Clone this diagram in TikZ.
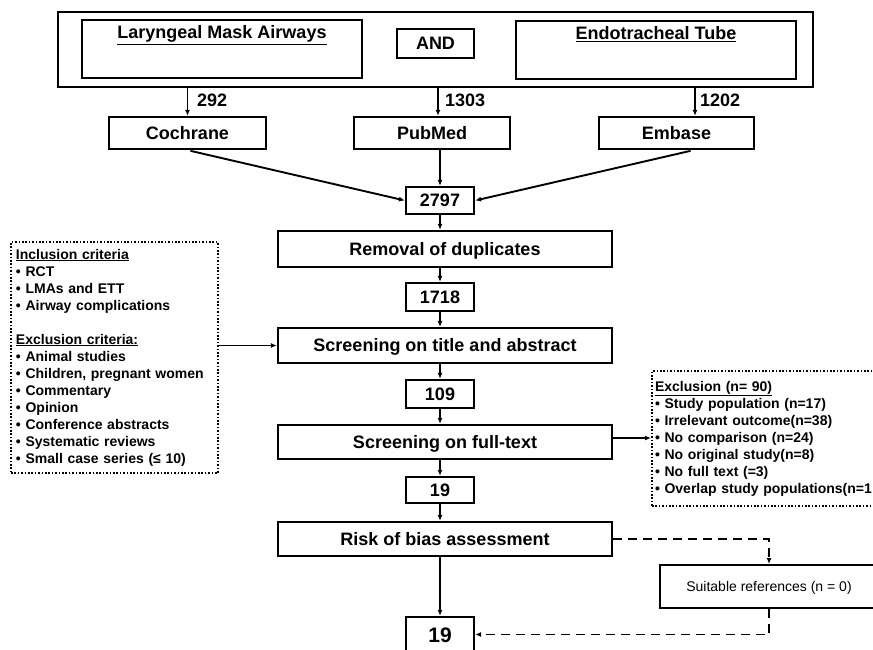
\documentclass[tikz,border=0pt]{standalone}
\usepackage{fontspec}
\setmainfont{Liberation Sans}
\usetikzlibrary{arrows.meta,calc}
\begin{document}
\begin{tikzpicture}[x=1pt,y=-1pt,
  box/.style={draw, line width=2.3pt, inner sep=0pt, font=\fontsize{18}{21}\selectfont\bfseries,
    text height=12.9pt, text depth=0pt, align=center},
  lab/.style={inner sep=0pt, font=\fontsize{18}{21}\selectfont\bfseries, text height=12.9pt, text depth=0pt, anchor=west},
  arr/.style={line width=1.9pt, -{Latex[length=6pt,width=5pt]}},
  dotbox/.style={draw, line width=2pt, dash pattern=on 1.6pt off 1.8pt, inner ysep=0pt,
    font=\fontsize{14}{17}\selectfont\bfseries, align=left},
  dashln/.style={line width=2pt, dash pattern=on 9pt off 6pt}
]
\useasboundingbox (0,0) rectangle (873,650);
\clip (0,0) rectangle (873,650);

% search terms
\node[box, line width=2.7pt, minimum width=755pt, minimum height=75pt] (outer) at (435.5,49.5) {};
\node[box, minimum width=280pt, minimum height=58pt] (lma) at (222,49) {};
\node[lab, anchor=base] (lmat) at ([yshift=-20pt]lma.north) {\underline{Laryngeal Mask Airways}};
\node[box, minimum width=77pt, minimum height=29pt] (and) at (435.5,43.5) {AND};
\node[box, minimum width=280pt, minimum height=58pt] (ett) at (656,50) {};
\node[lab, anchor=base] (ettt) at ([yshift=-20pt]ett.north) {\underline{Endotracheal Tube}};

% databases
\node[box, minimum width=157pt, minimum height=32pt] (coch) at (187.5,133) {Cochrane};
\node[box, minimum width=156pt, minimum height=32pt] (pub) at (432,133) {PubMed};
\node[box, minimum width=155pt, minimum height=32pt] (emb) at (676.5,133) {Embase};

\draw[arr] (coch.north |- outer.south) -- (coch.north);
\draw[arr] ([xshift=6pt]pub.north |- outer.south) -- ([xshift=6pt]pub.north);
\draw[arr] ([xshift=18.5pt]emb.north |- outer.south) -- ([xshift=18.5pt]emb.north);
\node[lab] (l292) at (197,100) {292};
\node[lab] (l1303) at (445,100) {1303};
\node[lab] (l1202) at (700,100) {1202};

% main column
\node[box, minimum width=68pt, minimum height=27pt] (n2797) at (440,200.5) {2797};
\node[box, minimum width=334pt, minimum height=36pt] (rem) at (445,249) {Removal of duplicates};
\node[box, minimum width=68pt, minimum height=28pt] (n1718) at (440,297) {1718};
\node[box, minimum width=334pt, minimum height=35pt] (sta) at (445,345.5) {Screening on title and abstract};
\node[box, minimum width=68pt, minimum height=28pt] (n109) at (440,394) {109};
\node[box, minimum width=334pt, minimum height=34pt] (sft) at (445,442) {Screening on full-text};
\node[box, minimum width=68pt, minimum height=26pt] (n19) at (440,490) {19};
\node[box, minimum width=334pt, minimum height=34pt] (rob) at (445,539) {Risk of bias assessment};
\node[box, minimum width=68pt, minimum height=35pt, font=\fontsize{21}{24}\selectfont\bfseries, text height=15pt] (final) at (440,634.5) {19};
\node[box, line width=2pt, minimum width=218pt, minimum height=43pt, font=\fontsize{14}{17}\selectfont, text height=10pt] (suit) at (769,586.5) {Suitable references (n = 0)};

\draw[arr, shorten <=3pt] (coch.south) -- (n2797.west);
\draw[arr] (n2797.north |- pub.south) -- (n2797.north);
\draw[arr, shorten <=3pt] ([xshift=17pt]emb.south) -- (n2797.east);

\draw[arr] (n2797.south) -- (n2797.south |- rem.north);
\draw[arr] (n1718.north |- rem.south) -- (n1718.north);
\draw[arr] (n1718.south) -- (n1718.south |- sta.north);
\draw[arr] (n109.north |- sta.south) -- (n109.north);
\draw[arr] (n109.south) -- (n109.south |- sft.north);
\draw[arr] (n19.north |- sft.south) -- (n19.north);
\draw[arr] (n19.south) -- (n19.south |- rob.north);
\draw[arr] (final.north |- rob.south) -- (final.north);

% criteria boxes
\node[dotbox, text width=197pt, inner xsep=5pt, minimum height=231pt] (inc) at (114.5,357.5)
 {\underline{Inclusion criteria}\\
  • RCT\\
  • LMAs and ETT\\
  • Airway complications\\[17pt]
  \underline{Exclusion criteria:}\\
  • Animal studies\\
  • Children, pregnant women\\
  • Commentary\\
  • Opinion\\
  • Conference abstracts\\
  • Systematic reviews\\
  • Small case series (≤ 10)};
\node[dotbox, text width=222pt, inner xsep=3pt, minimum height=135pt] (exc) at (766,438.5)
 {\underline{Exclusion (n= 90)}\\
  • Study population (n=17)\\
  • Irrelevant outcome(n=38)\\
  • No comparison (n=24)\\
  • No original study(n=8)\\
  • No full text (=3)\\
  • Overlap study populations(n=1};

\draw[arr] (inc.east |- sta.west) -- (sta.west);
\draw[arr] ([yshift=4pt]sft.east) -- ([yshift=4pt]sft.east -| exc.west);

% dashed path
\draw[dashln, arr] (rob.east) -| (suit.north);
\draw[dashln, arr] (suit.south) |- (final.east);
\end{tikzpicture}
\end{document}
